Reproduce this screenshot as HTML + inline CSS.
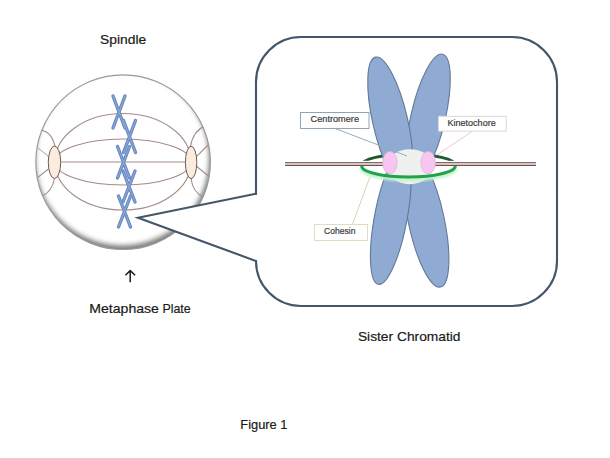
<!DOCTYPE html>
<html><head><meta charset="utf-8">
<style>
html,body{margin:0;padding:0;background:#fff;}
body{width:610px;height:458px;overflow:hidden;}
svg{display:block;}
text{font-family:"Liberation Sans",sans-serif;}
</style></head>
<body>
<svg width="610" height="458" viewBox="0 0 610 458">
<defs>
  
  <clipPath id="sclip"><circle cx="123.1" cy="162.2" r="87.3"/></clipPath>
  <filter id="sblur" x="-10%" y="-10%" width="120%" height="120%"><feGaussianBlur stdDeviation="2.6"/></filter>
  <filter id="glow" x="-20%" y="-50%" width="140%" height="200%"><feGaussianBlur stdDeviation="1.2"/></filter>
</defs>
<rect width="610" height="458" fill="#fff"/>

<!-- Sphere -->
<circle cx="123.1" cy="162.2" r="87.3" fill="#fff"/>
<g clip-path="url(#sclip)">
  <path fill="#7a7a7a" fill-rule="evenodd" filter="url(#sblur)" d="M-50,-50 H300 V350 H-50 Z M35.1,158.4 a87,87 0 1,0 174,0 a87,87 0 1,0 -174,0 Z"/>
</g>
<circle cx="123.1" cy="162.2" r="87.3" fill="none" stroke="#999999" stroke-width="1.1"/>
<g clip-path="url(#sclip)" fill="none" stroke="#a38c8b" stroke-width="1.1">
  <!-- spindle arcs -->
  <path d="M55,162 A68,48.5 0 0 1 191,162"/>
  <path d="M55,162 A68,23 0 0 1 191,162"/>
  <path d="M55,162 L191,162"/>
  <path d="M55,162 A68,23 0 0 0 191,162"/>
  <path d="M55,162 A68,48 0 0 0 191,162"/>
  <!-- astral left -->
  <path d="M55.1,146.5 C53,138 50,132 40,129.8"/>
  <path d="M54.6,178 C53,187 49,193 42,196"/>
  <path d="M48.5,169 L34.5,180"/>
  <path d="M48.5,156.5 L37.5,147.5" stroke="#c4bcbc"/>
  <!-- astral right -->
  <path d="M190.4,146.5 C192,138 195,130 205,126"/>
  <path d="M191,178 C192,187 196,194 204,197.5"/>
  <path d="M196.5,156.7 L209,144"/>
  <path d="M196.5,166.3 L209,176.5"/>
</g>
<ellipse cx="54.5" cy="162.3" rx="6.2" ry="16.2" fill="#fcebdf" stroke="#6e5c54" stroke-width="1"/>
<ellipse cx="191.1" cy="162.4" rx="5.7" ry="16.2" fill="#fcebdf" stroke="#6e5c54" stroke-width="1"/>

<!-- chromosomes -->
<g stroke="#6787be" stroke-width="3.4" stroke-linecap="round" fill="none">
  <path d="M113,96 L125,128 M125,96 L113,128"/>
  <path d="M123.5,120.5 L135.5,152.5 M135.5,120.5 L123.5,152.5"/>
  <path d="M117.5,146.5 L129.5,178 M129.5,146.5 L117.5,178"/>
  <path d="M123,171 L135,202 M135,171 L123,202"/>
  <path d="M118.5,196 L130.5,227 M130.5,196 L118.5,227"/>
</g>
<g stroke="#87a5d5" stroke-width="1.3" stroke-linecap="round" fill="none">
  <path d="M113,96 L125,128 M125,96 L113,128"/>
  <path d="M123.5,120.5 L135.5,152.5 M135.5,120.5 L123.5,152.5"/>
  <path d="M117.5,146.5 L129.5,178 M129.5,146.5 L117.5,178"/>
  <path d="M123,171 L135,202 M135,171 L123,202"/>
  <path d="M118.5,196 L130.5,227 M130.5,196 L118.5,227"/>
</g>

<!-- callout -->
<path d="M256,193.8 L256,82 A45,45 0 0 1 301,37 L512,37 A45,45 0 0 1 557,82 L557,261 A45,45 0 0 1 512,306 L301,306 A45,45 0 0 1 256,261 L138,217.7 Z"
  fill="#fff" stroke="#44566a" stroke-width="2.1" stroke-linejoin="miter"/>

<!-- cohesin back ring -->
<path d="M361.7,165 A46.8,10.8 0 0 1 455.3,165" fill="none" stroke="#1d5a2e" stroke-width="3"/>

<!-- sister chromatid -->
<g stroke="#637896" stroke-width="1.1" fill="#8faad3">
  <ellipse cx="428.16" cy="116.93" rx="17.2" ry="64.4" transform="rotate(12.96 428.16 116.93)"/>
  <ellipse cx="426.3" cy="220.5" rx="18" ry="68" transform="rotate(-12.03 426.3 220.5)"/>
  <ellipse cx="390.28" cy="121.57" rx="17.46" ry="66.14" transform="rotate(-12.9 390.28 121.57)"/>
  <ellipse cx="390.76" cy="217.88" rx="16.36" ry="67.55" transform="rotate(10.63 390.76 217.88)"/>
</g>

<!-- microtubule -->
<rect x="285" y="160.8" width="251" height="6.2" fill="#fff"/>
<rect x="285" y="162.4" width="251" height="3.2" fill="#e6d0d0"/>
<rect x="285" y="162.1" width="251" height="1" fill="#7a5c5c"/>
<rect x="285" y="164.9" width="251" height="1" fill="#5a4444"/>

<!-- centromere -->
<ellipse cx="409.8" cy="166.7" rx="23" ry="17.5" fill="#eff1ef"/>
<!-- kinetochores -->
<ellipse cx="389.9" cy="162.6" rx="7.2" ry="11.2" fill="#f8c6f1" stroke="#dcb4d6" stroke-width="0.8"/>
<ellipse cx="428.1" cy="162.6" rx="7.3" ry="11.2" fill="#f8c6f1" stroke="#dcb4d6" stroke-width="0.8"/>

<!-- cohesin front ring -->
<path d="M361.7,168 A46.8,11.2 0 0 0 455.3,168" fill="none" stroke="#c4f2cc" stroke-width="4.5" filter="url(#glow)"/>
<path d="M361.7,166 A46.8,11 0 0 0 455.3,166" fill="none" stroke="#22a24b" stroke-width="3"/>

<!-- leader lines -->
<line x1="335.2" y1="128.5" x2="407" y2="156" stroke="#8fb0c0" stroke-width="1"/>
<line x1="472.1" y1="131.5" x2="436.7" y2="155" stroke="#ecc8d0" stroke-width="1"/>
<line x1="352.4" y1="224.5" x2="369.9" y2="177" stroke="#d8d4b4" stroke-width="1"/>

<!-- label boxes -->
<rect x="300.5" y="112.5" width="68.5" height="16" fill="#fff" stroke="#90a4b4" stroke-width="1"/>
<text x="334.8" y="122.4" font-size="9.3" fill="#383838" stroke="#383838" stroke-width="0.18" text-anchor="middle" textLength="48.5" lengthAdjust="spacingAndGlyphs">Centromere</text>
<rect x="438.5" y="116.3" width="67.7" height="14.8" fill="#fff" stroke="#d8d8d8" stroke-width="1"/>
<text x="471.6" y="125.6" font-size="9" fill="#383838" stroke="#383838" stroke-width="0.18" text-anchor="middle" textLength="48.2" lengthAdjust="spacingAndGlyphs">Kinetochore</text>
<rect x="314.5" y="224.5" width="53" height="16" fill="#fff" stroke="#e0dcc0" stroke-width="1"/>
<text x="339.8" y="234.3" font-size="9" fill="#383838" stroke="#383838" stroke-width="0.18" text-anchor="middle" textLength="31.5" lengthAdjust="spacingAndGlyphs">Cohesin</text>

<!-- labels -->
<text x="100.1" y="43.6" font-size="13" fill="#1a1a1a" stroke="#1a1a1a" stroke-width="0.2" textLength="46.1" lengthAdjust="spacingAndGlyphs">Spindle</text>
<path d="M130.2,271 L130.2,282.3 M125.4,275.3 L130.2,270.6 L135.1,275.3" stroke="#1e1e1e" stroke-width="1.5" fill="none" stroke-linejoin="round"/>
<text x="89.3" y="313.1" font-size="13.5" fill="#1a1a1a" stroke="#1a1a1a" stroke-width="0.2" textLength="69.6" lengthAdjust="spacingAndGlyphs">Metaphase</text>
<text x="162.4" y="313.1" font-size="13.5" fill="#1a1a1a" stroke="#1a1a1a" stroke-width="0.2" textLength="28.3" lengthAdjust="spacingAndGlyphs">Plate</text>
<text x="357.9" y="340.7" font-size="13.5" fill="#1a1a1a" stroke="#1a1a1a" stroke-width="0.2" textLength="102.6" lengthAdjust="spacingAndGlyphs">Sister Chromatid</text>
<text x="240.3" y="429.4" font-size="13.3" fill="#1a1a1a" stroke="#1a1a1a" stroke-width="0.2" textLength="47.2" lengthAdjust="spacingAndGlyphs">Figure 1</text>
</svg>
</body></html>
